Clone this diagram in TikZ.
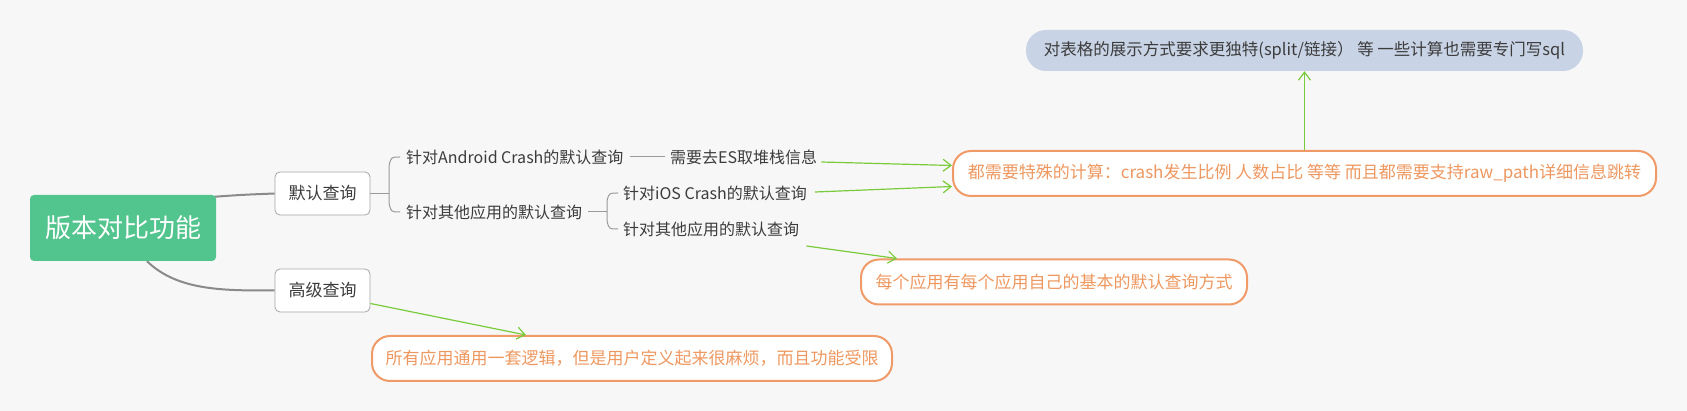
\documentclass[tikz,border=0pt]{standalone}
\usepackage{fontspec}
\setmainfont{Noto Sans CJK SC}
\usetikzlibrary{arrows.meta,calc,backgrounds}
\definecolor{bgc}{HTML}{F7F7F7}
\definecolor{rootgreen}{HTML}{52C48D}
\definecolor{boxborder}{HTML}{A6A6A6}
\definecolor{linegray}{HTML}{8A8A8A}
\definecolor{bracegray}{HTML}{9A9A9A}
\definecolor{txt}{HTML}{3C3C3C}
\definecolor{arrowgreen}{HTML}{7ACB3C}
\definecolor{orangeb}{HTML}{F09A68}
\definecolor{oranget}{HTML}{EE9860}
\definecolor{pillfill}{HTML}{C8D3E5}
\begin{document}
\begin{tikzpicture}[x=1pt,y=-1pt,
  rootbox/.style={rectangle, rounded corners=4pt, fill=rootgreen, text=white, font=\fontsize{26}{30}\selectfont, minimum width=186pt, minimum height=66pt, inner sep=0pt},
  topicbox/.style={rectangle, rounded corners=5pt, draw=boxborder, line width=0.8pt, fill=white, text=txt, font=\fontsize{17}{20}\selectfont, minimum width=95pt, minimum height=43pt, inner sep=0pt},
  leaf/.style={text=txt, font=\fontsize{16}{19}\selectfont, inner sep=0pt, anchor=west},
  note/.style={rectangle, rounded corners=18pt, draw=orangeb, line width=2pt, fill=white, text=oranget, font=\fontsize{17}{20}\selectfont, inner sep=0pt, minimum height=45pt},
  pill/.style={rectangle, rounded corners=20pt, fill=pillfill, text=txt, font=\fontsize{16.5}{20}\selectfont, inner sep=0pt, minimum height=41pt},
  branch/.style={draw=linegray, line width=2pt},
  bracket/.style={draw=bracegray, line width=1pt},
  link/.style={draw=arrowgreen, line width=1.2pt, -{Straight Barb[length=8pt,width=12pt]}},
]
\useasboundingbox (0,0) rectangle (1687,411);

% nodes
\node[rootbox] (root) at (123,228) {版本对比功能};
\node[topicbox] (d) at (322.5,193.5) {默认查询};
\node[topicbox] (g) at (322.5,290.5) {高级查询};

\node[leaf] (a1) at (406,157) {针对Android Crash的默认查询};
\node[leaf] (a2) at (670,157) {需要去ES取堆栈信息};
\node[leaf] (b1) at (406,212) {针对其他应用的默认查询};
\node[leaf] (c1) at (623,193) {针对iOS Crash的默认查询};
\node[leaf] (c2) at (623,229) {针对其他应用的默认查询};

\node[note, minimum width=703pt] (o1) at (1304.5,173.5) {都需要特殊的计算：crash发生比例 人数占比 等等 而且都需要支持raw\_path详细信息跳转};
\node[pill, minimum width=557pt] (p) at (1304.5,50.5) {对表格的展示方式要求更独特(split/链接） 等 一些计算也需要专门写sql};
\node[note, minimum width=386pt] (o2) at (1054,282) {每个应用有每个应用自己的基本的默认查询方式};
\node[note, minimum width=520pt] (o3) at (632,358.5) {所有应用通用一套逻辑，但是用户定义起来很麻烦，而且功能受限};

% background and connectors behind nodes
\begin{pgfonlayer}{background}
\fill[bgc] (0,0) rectangle (1687,411);
\draw[branch] ($(root.north east)+(-16,3)$) .. controls ($(root.north east)+(25,0)$) .. (d.west);
\draw[branch] ($(root.south)+(24,0)$) .. controls ($(root.south)+(55,30)$) and ($(g.west)+(-50,0)$) .. (g.west);
\end{pgfonlayer}

% brackets
\draw[bracket] (d.east) -- ++(19,0);
\draw[bracket] ($(a1.west)+(-6,0)$) .. controls ($(a1.west)+(-15,0)$) .. ($(a1.west)+(-17,9)$) -- ($(b1.west)+(-17,-9)$) .. controls ($(b1.west)+(-15,0)$) .. ($(b1.west)+(-6,0)$);
\draw[bracket] ($(a1.east)+(6,0)$) -- ($(a2.west)+(-5,0)$);
\draw[bracket] ($(b1.east)+(6,0)$) -- ($(c1.west |- b1.east)+(-16,0)$);
\draw[bracket] ($(c1.west)+(-5,0)$) .. controls ($(c1.west)+(-14,0)$) .. ($(c1.west)+(-16,8)$) -- ($(c2.west)+(-16,-8)$) .. controls ($(c2.west)+(-14,0)$) .. ($(c2.west)+(-5,0)$);

% green links
\draw[link] ($(a2.east)+(4,5)$) -- ($(o1.west)+(0,-8)$);
\draw[link] ($(c1.east)+(8,-1)$) -- ($(o1.west)+(0,13)$);
\draw[link] ($(c2.east)+(7,17)$) -- ($(o2.north west)+(37,0)$);
\draw[link] ($(g.east)+(0,13)$) -- ($(o3.north west)+(155,0)$);
\draw[link] (o1.north) -- (p.south);
\end{tikzpicture}
\end{document}
